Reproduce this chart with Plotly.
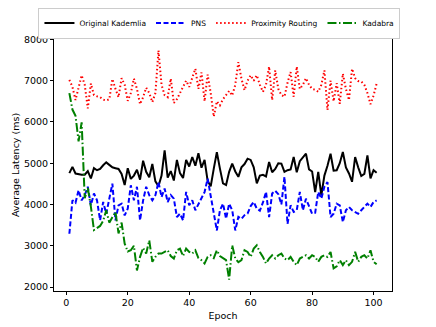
import plotly.graph_objects as go

# epochs 1..101
epochs = list(range(1, 102))

original_kademlia = [
    4760, 4910, 4750, 4730, 4720, 4720, 4810, 4630, 4880, 4830,
    4860, 4950, 5020, 4960, 4900, 4880, 4860, 4740, 4470, 4880,
    4620, 4700, 4840, 4600, 5060, 4790, 4660, 4980, 4560, 4440,
    4700, 5310, 4650, 4810, 4580, 5080, 4760, 4640, 5080, 4920,
    5150, 4940, 5240, 4890, 5080, 4570, 4440, 4870, 5270, 4870,
    4510, 4470, 4790, 4990, 4800, 4670, 4900, 4980, 5110, 5080,
    4900, 4510, 4700, 4720, 4680, 5030, 4780, 4860, 5000, 4990,
    4790, 4830, 4850, 5150, 4780, 5050, 5150, 5230, 4850, 4800,
    4300, 4790, 4220, 4700, 4940, 5230, 4820, 4830, 5000, 5270,
    4900, 4750, 4550, 5150, 4900, 4690, 4740, 5190, 4630, 4830,
    4770,
]

pns = [
    3290, 4100, 4040, 4345, 4100, 4225, 4430, 3980, 4265, 4100,
    3615, 4060, 3775, 4180, 4505, 3615, 3980, 4020, 3735, 3900,
    4465, 4100, 4430, 3615, 4100, 4430, 4225, 4100, 4225, 4545,
    4180, 4385, 4060, 4225, 4140, 3695, 3775, 3615, 4305, 3980,
    4100, 3860, 4020, 4180, 4300, 4625, 4180, 3775, 3370, 3860,
    4020, 3655, 4020, 3860, 3370, 3700, 3650, 3740, 3780, 3960,
    4060, 3900, 3850, 4050, 4305, 3695, 4265, 4330, 4250, 4000,
    4670, 3530, 3980, 3820, 3860, 4305, 3860, 4140, 3940, 3775,
    3800, 4305, 4140, 4430, 4545, 3695, 3775, 4020, 3980, 3575,
    3860, 3940, 3860, 3820, 3775, 3860, 3940, 4020, 3940, 4060,
    4100,
]

proximity_routing = [
    7020, 6850, 6530, 6800, 7130, 6900, 6330, 6930, 6650, 6620,
    6600, 6540, 6520, 6550, 7040, 6800, 6600, 7060, 6900, 6510,
    6700, 7050, 6800, 6430, 6600, 6830, 6700, 6480, 6700, 7730,
    6900, 6650, 6600, 7050, 6460, 6550, 6700, 6850, 7000, 6850,
    7050, 7290, 6800, 7200, 6500, 7150, 6700, 6130, 6500, 6400,
    6550, 6650, 6750, 6640, 6900, 7450, 7050, 6770, 7000, 7130,
    7000, 7130, 6900, 6730, 6900, 7340, 6530, 7250, 6800, 6650,
    6610, 6950, 7210, 6610, 7340, 6800, 6900, 7060, 6900, 6800,
    6780, 6730, 6900, 7250, 6290, 7000, 6500, 6940, 6440, 7170,
    6800, 6530, 7290, 7060, 6990, 6980, 6900, 6700, 6430, 6640,
    6930,
]

kadabra = [
    6700, 6300, 6150, 5530, 5990, 4150, 4400, 3950, 3380, 3420,
    3480, 3600, 3860, 3560, 3700, 3820, 3300, 3560, 3050, 2860,
    2890, 3000, 2400, 2730, 2950, 2810, 3130, 2610, 2730, 2810,
    2810, 2850, 2890, 2750, 2690, 2890, 2930, 2750, 2930, 2850,
    2810, 2890, 2700, 2650, 2570, 2730, 2770, 2700, 2890, 2750,
    2700, 2650, 2180, 3010, 2690, 2600, 2650, 2890, 2850, 2730,
    2930, 3010, 2850, 2730, 2570, 2690, 2770, 2690, 2770, 2810,
    2690, 2650, 2730, 2610, 2530, 2690, 2730, 2770, 2690, 2770,
    2730, 2610, 2730, 2770, 2730, 2850, 2450, 2500, 2650, 2530,
    2650, 2530, 2610, 2850, 2610, 2730, 2770, 2690, 2890, 2610,
    2550,
]

x_ticks = [0, 20, 40, 60, 80, 100]
y_ticks = [2000, 3000, 4000, 5000, 6000, 7000, 8000]

font = "DejaVu Sans"
lw = 2

fig = go.Figure()
fig.add_trace(go.Scatter(x=epochs, y=original_kademlia, mode="lines", name="Original Kademlia",
                         line=dict(color="black", width=lw)))
fig.add_trace(go.Scatter(x=epochs, y=pns, mode="lines", name="PNS",
                         line=dict(color="#0000ff", width=lw, dash="5px,2.5px")))
fig.add_trace(go.Scatter(x=epochs, y=proximity_routing, mode="lines", name="Proximity Routing",
                         line=dict(color="#ff0000", width=lw, dash="1.5px,2.5px")))
fig.add_trace(go.Scatter(x=epochs, y=kadabra, mode="lines", name="Kadabra",
                         line=dict(color="#008000", width=lw, dash="9px,2.5px,1.5px,2.5px")))

axis_style = dict(showline=True, linecolor="black", linewidth=1, mirror=True,
                  ticks="outside", ticklen=3, tickwidth=1, tickcolor="black",
                  showgrid=False, zeroline=False,
                  tickfont=dict(family=font, size=9.5, color="black"))

fig.update_xaxes(range=[-4, 106], tickvals=x_ticks,
                 title=dict(text="Epoch", font=dict(family=font, size=9.5, color="black"), standoff=4),
                 **axis_style)
fig.update_yaxes(range=[1903, 8010], tickvals=y_ticks,
                 title=dict(text="Average Latency (ms)", font=dict(family=font, size=9.5, color="black"),
                            standoff=2),
                 **axis_style)

fig.update_layout(
    width=436, height=327,
    margin=dict(l=54, r=44, t=39, b=36, autoexpand=False),
    paper_bgcolor="white", plot_bgcolor="white",
    font=dict(family=font, color="black"),
    legend=dict(orientation="h", x=-0.046, y=1.125, xanchor="left", yanchor="top",
                bgcolor="white", bordercolor="#cccccc", borderwidth=1,
                font=dict(family=font, size=7.5, color="black"),
                itemwidth=30),
)

# drop the default page margin so the figure sits at the window's top-left corner
fig.write_html("out.html", config={"displayModeBar": False},
               post_script="document.body.style.margin = '0';")
